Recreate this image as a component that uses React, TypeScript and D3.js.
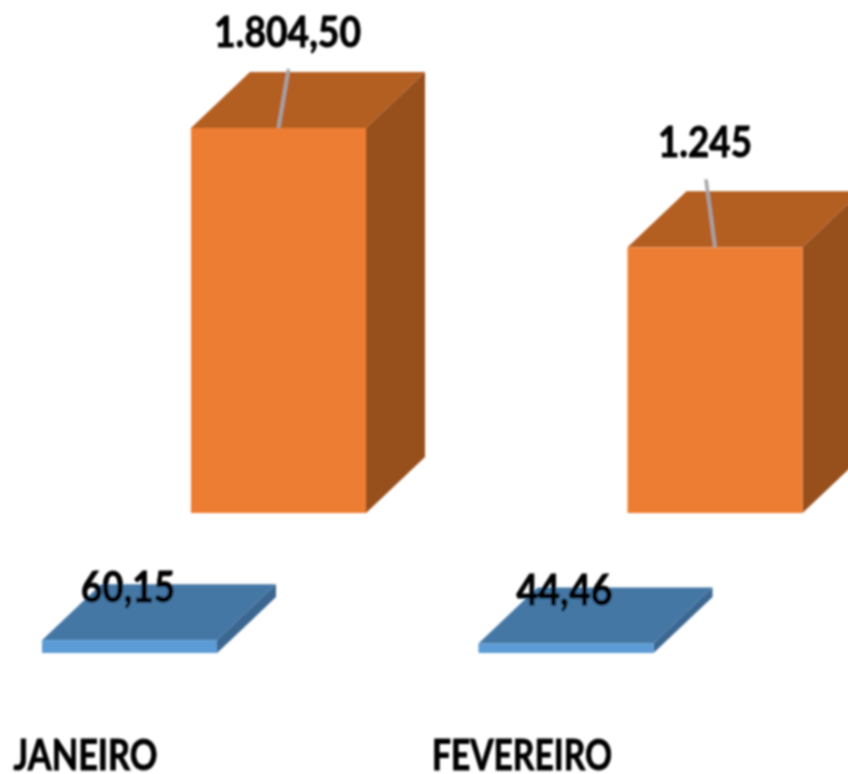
import * as d3 from 'd3';

const categories = ['JANEIRO', 'FEVEREIRO'];
const frontValues = [60.15, 44.46];
const backValues = [1804.5, 1245];
const frontLabels = ['60,15', '44,46'];
const backLabels = ['1.804,50', '1.245'];

const WIDTH = 848;
const HEIGHT = 774;
const BAR_W = 175;
const DEPTH_X = 59;
const DEPTH_Y = 56;

// one pixel scale for both rows, they only differ by their floor
const h = d3.scaleLinear().domain([0, 1804.5]).range([0, 385]);
const x = d3.scaleBand().domain(categories).range([42, 915]).paddingInner(0).paddingOuter(0);

const blue = { front: '#5B9BD5', top: '#4477A5', side: '#3A6690' };
const orange = { front: '#ED7D31', top: '#B45F24', side: '#974F1C' };

const Bar3D = ({ left, floor, value, colors }) => {
    const top = floor - h(value);
    const right = left + BAR_W;
    const poly = d3.line();
    return (
        <g>
            <path
                fill={colors.top}
                d={poly([[left, top], [left + DEPTH_X, top - DEPTH_Y], [right + DEPTH_X, top - DEPTH_Y], [right, top]]) + 'Z'}
            />
            <path
                fill={colors.side}
                d={poly([[right, top], [right + DEPTH_X, top - DEPTH_Y], [right + DEPTH_X, floor - DEPTH_Y], [right, floor]]) + 'Z'}
            />
            <rect x={left} y={top} width={BAR_W} height={h(value)} fill={colors.front} />
        </g>
    );
};

// Squeezed bold text, the source font is narrower than anything installed
const Label = ({ x: tx, y, width, children }) => (
    <text
        x={tx - width / 2}
        y={y}
        textLength={width}
        lengthAdjust="spacingAndGlyphs"
        fontFamily="Lato, sans-serif"
        fontSize={42}
        fontWeight={700}
        fill="#000"
        stroke="#000"
        strokeWidth={0.9}
    >
        {children}
    </text>
);

export default function App() {
    const frontFloor = 653;
    const backFloor = 513;
    const backShift = 149;
    const leaders = [{ dx: 10, up: 59 }, { dx: -9, up: 68 }];
    const backLabelUp = [81, 90];
    const backLabelW = [147, 94];
    const frontLabelW = [94, 96];
    const catW = [144, 180];

    return (
        <svg
            width={WIDTH}
            height={HEIGHT}
            style={{ position: 'absolute', left: 0, top: 0, display: 'block', background: '#fff' }}
        >
            <defs>
                <filter id="soft" x="-5%" y="-5%" width="110%" height="110%">
                    <feGaussianBlur stdDeviation="0.9" />
                </filter>
            </defs>
            <g filter="url(#soft)">
                {categories.map((c, i) => {
                    const left = x(c) + backShift;
                    const top = backFloor - h(backValues[i]);
                    const cx = left + BAR_W / 2;
                    return (
                        <g key={c}>
                            <Bar3D left={left} floor={backFloor} value={backValues[i]} colors={orange} />
                            <line
                                x1={cx}
                                y1={top}
                                x2={cx + leaders[i].dx}
                                y2={top - leaders[i].up}
                                stroke="#A5A5A5"
                                strokeWidth={3.5}
                            />
                            <Label x={cx + leaders[i].dx - 1} y={top - backLabelUp[i]} width={backLabelW[i]}>
                                {backLabels[i]}
                            </Label>
                        </g>
                    );
                })}
                {categories.map((c, i) => {
                    const left = x(c);
                    const top = frontFloor - h(frontValues[i]);
                    return (
                        <g key={c}>
                            <Bar3D left={left} floor={frontFloor} value={frontValues[i]} colors={blue} />
                            <Label x={left + 86} y={top - 38.5} width={frontLabelW[i]}>
                                {frontLabels[i]}
                            </Label>
                            <Label x={left + 43.5} y={770} width={catW[i]}>
                                {c}
                            </Label>
                        </g>
                    );
                })}
            </g>
        </svg>
    );
}
